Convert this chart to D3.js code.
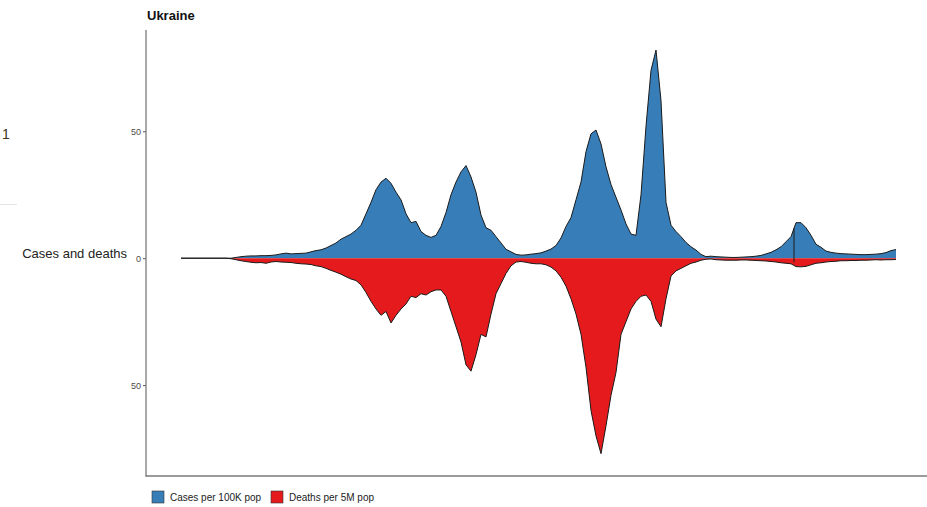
<!DOCTYPE html>
<html>
<head>
<meta charset="utf-8">
<script src="https://cdn.jsdelivr.net/npm/d3@7"></script>
<style>
  body { margin: 0; background: #fff; }
  svg { display: block; font-family: "Liberation Sans", Arial, sans-serif; }
</style>
</head>
<body>
<div id="chart"></div>
<script>
// weekly values, Ukraine
var cases = [
  0, 0, 0, 0, 0, 0, 0, 0, 0, 0,
  0, 0.3, 0.6, 0.8, 0.9, 0.9, 1.0, 1.0, 1.1, 1.3,
  1.7, 2.0, 1.7, 1.8, 1.9, 2.0, 2.5, 3.0, 3.3, 4.0,
  5.0, 6.0, 7.5, 8.5, 9.5, 11, 13, 17.5, 22, 27,
  30, 31.5, 29.5, 26, 23, 17.5, 14, 14.5, 10.5, 9,
  8.2, 9, 12.5, 18, 25, 30, 34, 36.5, 32, 26,
  17, 12, 11, 8.5, 6, 3.5, 2.5, 1.5, 1.2, 1.3,
  1.6, 1.8, 2.1, 2.8, 3.6, 5, 8, 12.5, 16, 23,
  30, 42, 49, 50.5, 45, 36, 29, 24, 19, 13.5,
  9.5, 9.0, 25, 52, 74, 82, 62, 22, 13, 10.5,
  8.5, 6.2, 4.5, 3.2, 1.5, 0.6, 0.8, 0.6, 0.5, 0.4,
  0.3, 0.3, 0.4, 0.5, 0.6, 0.8, 1.1, 1.7, 2.3, 3.3,
  4.5, 6.5, 8.5, 14, 14, 12, 9, 5.5, 4.3, 2.8,
  2.3, 2.0, 1.8, 1.7, 1.6, 1.5, 1.4, 1.4, 1.5, 1.6,
  1.8, 2.2, 3.0, 3.4
];

var deaths = [
  0, 0, 0, 0, 0, 0, 0, 0, 0, 0,
  0.2, 0.6, 1.0, 1.3, 1.6, 1.8, 1.7, 2.0, 1.5, 1.3,
  1.5, 1.6, 1.7, 2.0, 2.2, 2.3, 2.5, 3.0, 3.3, 4.0,
  4.8, 5.5, 6.3, 7.3, 8.2, 8.8, 10.5, 13.5, 17, 20,
  22.5, 21, 25.5, 22.5, 20, 18, 15, 15.5, 14, 14.5,
  13.2, 12.5, 12.5, 15, 21, 27, 33, 42, 44.5, 38,
  30, 31, 22, 14, 10, 6, 3, 1.5, 1.3, 1.6,
  2.0, 2.2, 2.2, 2.6, 3.5, 5, 7.5, 11, 16, 22,
  30, 43, 60, 70, 77, 66, 54, 45, 30, 25,
  20, 17, 15, 14.5, 17, 24, 27, 16, 7, 5,
  4, 3, 2, 1.5, 0.8, 0.4, 0.3, 0.6, 0.7, 0.8,
  0.8, 0.8, 0.7, 0.7, 0.8, 0.9, 1.0, 1.1, 1.3, 1.5,
  1.8, 2.0, 2.2, 3.3, 3.4, 3.2, 2.6, 2.0, 1.8, 1.5,
  1.3, 1.2, 1.0, 1.0, 0.9, 0.9, 0.8, 0.8, 0.7, 0.6,
  0.7, 0.6, 0.6, 0.5
];

// one reported negative day of deaths (data revision)
var revision = [{week: 122.6, from: -1.6, to: 11.8}];

var yTicks = [-50, 0, 50];
var seriesNames = ['Cases per 100K pop', 'Deaths per 5M pop'];
var seriesColors = ['#377EB8', '#E41A1C'];

(function() {

  init();

  function init() {
    var width = 927;
    var height = 507;

    var svg = d3.select('#chart')
      .append('svg')
      .attr('width', width)
      .attr('height', height);

    // crop leftovers from the page the chart was cut from
    svg.append('text')
      .attr('x', 2)
      .attr('y', 139)
      .attr('font-size', 14)
      .attr('fill', '#3b3416')
      .text('1');
    svg.append('line')
      .attr('x1', 0).attr('x2', 17)
      .attr('y1', 204.5).attr('y2', 204.5)
      .attr('stroke', '#e4e4e4');

    var x = d3.scaleLinear()
      .domain([0, cases.length - 1])
      .range([181, 896]);

    var y = d3.scaleLinear()
      .domain([-85.8, 89.9])
      .range([476, 30]);

    var plot = svg.append('g');

    var caseArea = d3.area()
      .x(function(d, i) { return x(i); })
      .y0(y(0))
      .y1(function(d) { return y(d); });

    var deathArea = d3.area()
      .x(function(d, i) { return x(i); })
      .y0(y(0))
      .y1(function(d) { return y(-d); });

    plot.append('path')
      .datum(cases)
      .attr('fill', seriesColors[0])
      .attr('d', caseArea);

    plot.append('path')
      .datum(deaths)
      .attr('fill', seriesColors[1])
      .attr('d', deathArea);

    // upper outlines only, like geom_area(outline.type = "upper")
    plot.append('path')
      .datum(cases)
      .attr('fill', 'none')
      .attr('stroke', '#1a1a1a')
      .attr('stroke-width', 1)
      .attr('stroke-linejoin', 'round')
      .attr('d', d3.line().x(function(d, i) { return x(i); }).y(function(d) { return y(d); }));

    plot.append('path')
      .datum(deaths)
      .attr('fill', 'none')
      .attr('stroke', '#1a1a1a')
      .attr('stroke-width', 1)
      .attr('stroke-linejoin', 'round')
      .attr('d', d3.line().x(function(d, i) { return x(i); }).y(function(d) { return y(-d); }));

    plot.selectAll('line.revision')
      .data(revision)
      .enter()
      .append('line')
      .attr('class', 'revision')
      .attr('x1', function(d) { return x(d.week); })
      .attr('x2', function(d) { return x(d.week); })
      .attr('y1', function(d) { return y(d.from); })
      .attr('y2', function(d) { return y(d.to); })
      .attr('stroke', '#1a1a1a')
      .attr('stroke-width', 1);

    // axes
    var yAxis = d3.axisLeft(y)
      .tickValues(yTicks)
      .tickSize(3)
      .tickPadding(2)
      .tickFormat(function(d) { return Math.abs(d); });

    var ya = svg.append('g')
      .attr('transform', 'translate(146,0)')
      .call(yAxis);
    ya.select('.domain').remove();
    ya.selectAll('.tick line').attr('stroke', '#555');
    ya.selectAll('.tick text')
      .attr('fill', '#4d4d4d')
      .attr('font-size', 9)
      .attr('font-family', '"Liberation Sans", Arial, sans-serif');

    svg.append('line')
      .attr('x1', 146).attr('x2', 146)
      .attr('y1', 30).attr('y2', 476.5)
      .attr('stroke', '#7a7a7a')
      .attr('stroke-width', 1.3);

    svg.append('line')
      .attr('x1', 145.5).attr('x2', 927)
      .attr('y1', 476).attr('y2', 476)
      .attr('stroke', '#7a7a7a')
      .attr('stroke-width', 1.3);

    svg.append('text')
      .attr('x', 127)
      .attr('y', 258)
      .attr('text-anchor', 'end')
      .attr('font-size', 13)
      .attr('fill', '#222')
      .text('Cases and deaths');

    svg.append('text')
      .attr('x', 147)
      .attr('y', 20)
      .attr('font-size', 13)
      .attr('font-weight', 'bold')
      .attr('fill', '#111')
      .text('Ukraine');

    // legend
    var legendX = [152, 271];
    var legend = svg.append('g');
    var item = legend.selectAll('g')
      .data(seriesNames)
      .enter()
      .append('g')
      .attr('transform', function(d, i) { return 'translate(' + legendX[i] + ',491)'; });

    item.append('rect')
      .attr('width', 12)
      .attr('height', 12)
      .attr('fill', function(d, i) { return seriesColors[i]; })
      .attr('stroke', '#333')
      .attr('stroke-width', 0.6);

    item.append('text')
      .attr('x', 18)
      .attr('y', 10)
      .attr('font-size', 10)
      .attr('fill', '#222')
      .text(function(d) { return d; });
  }

})();
</script>
</body>
</html>
